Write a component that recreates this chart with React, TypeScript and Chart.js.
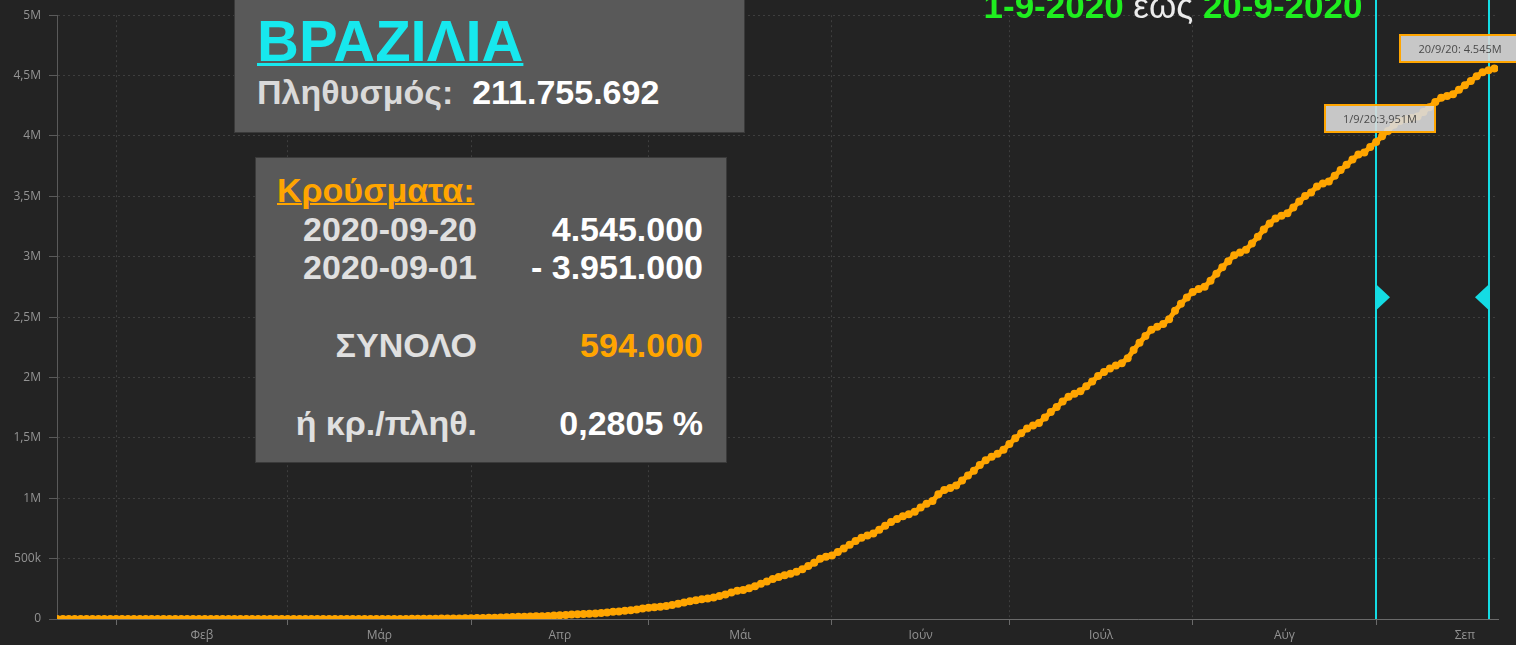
import React, { useEffect, useRef } from "react";
import { Chart, registerables } from "chart.js";

Chart.register(...registerables);

// Cumulative confirmed cases, Brazil, daily from 22 Jan 2020
const jan = [0, 0, 0, 0, 0, 0, 0, 0, 0, 0];
const feb = [0, 0, 0, 0, 0, 0, 0, 0, 0, 0, 0, 0, 0, 0, 0, 0, 0, 0, 0, 0, 0, 0, 0, 0, 0, 1, 1, 1, 2];
const mar = [2, 2, 2, 4, 4, 13, 13, 20, 25, 31, 38, 52, 151, 151, 162, 200, 321, 372, 621, 793, 1021, 1546, 1924, 2247, 2554, 2985, 3417, 3904, 4256, 4579, 5717];
const apr = [6836, 8044, 9056, 10360, 11130, 12161, 14034, 16170, 18092, 19638, 20727, 22192, 23430, 25262, 28320, 30425, 33682, 36658, 38654, 40743, 43079, 45757, 50036, 54043, 59324, 63100, 67446, 73235, 79685, 87187];
const may = [92202, 97100, 101826, 108620, 115455, 126611, 135773, 146894, 156061, 162699, 169594, 178214, 190137, 203165, 220291, 233511, 241080, 255368, 271885, 291579, 310087, 330890, 347398, 363211, 374898, 391222, 411821, 438238, 465166, 498440, 514849];
const jun = [526447, 555383, 584016, 614941, 645771, 672846, 691758, 707412, 739503, 772416, 802828, 828810, 850514, 867624, 888271, 923189, 955377, 978142, 1032913, 1067579, 1085038, 1106470, 1145906, 1188631, 1228114, 1274974, 1313667, 1344143, 1368195, 1402041];
const jul = [1448753, 1496858, 1539081, 1577004, 1603055, 1623284, 1668589, 1713160, 1755779, 1800827, 1839850, 1864681, 1884967, 1926824, 1966748, 2012151, 2046328, 2074860, 2098389, 2118646, 2159654, 2227514, 2287475, 2343366, 2394513, 2419091, 2442375, 2483191, 2552265, 2610102, 2662485];
const aug = [2707877, 2733677, 2750318, 2801921, 2859073, 2912212, 2962442, 3012412, 3035422, 3057470, 3109630, 3164785, 3224876, 3275520, 3317096, 3340197, 3359570, 3407354, 3456652, 3501975, 3532330, 3582362, 3605783, 3622861, 3669995, 3717156, 3761391, 3804803, 3846153, 3862311, 3908272];
const sep = [3950931, 3997865, 4041638, 4091801, 4123000, 4137521, 4147794, 4162073, 4197889, 4238446, 4282164, 4315687, 4330455, 4345610, 4382263, 4419083, 4455386, 4495183, 4528240, 4544629, 4558040];

// Month axis (day index counted from 22 Jan)
const monthLabels = ["Φεβ", "Μάρ", "Απρ", "Μάι", "Ιούν", "Ιούλ", "Αύγ", "Σεπ"];
const monthStartDay = [10, 39, 70, 100, 131, 161, 192, 223];
const monthLength = [29, 31, 30, 31, 30, 31, 31, 30];

// Highlighted period
const periodStartDay = 223; // 1/9/20
const periodEndDay = 242; // 20/9/20
const periodLabels = ["1/9/20:3,951M", "20/9/20: 4.545M"];

const cases = [...jan, ...feb, ...mar, ...apr, ...may, ...jun, ...jul, ...aug, ...sep];

const ORANGE = "#FFA500";
const CYAN = "#14dce4";
const GREEN = "#1fee1f";
const FONT = "'Liberation Sans', Arial, sans-serif";
const TICK_COLOR = "#939393";

function fmtY(v: number): string {
  if (v === 0) return "0";
  if (v < 1e6) return v / 1000 + "k";
  return String(v / 1e6).replace(".", ",") + "M";
}

const overlayPlugin = {
  id: "overlay",
  beforeDatasetsDraw(chart: any) {
    const { ctx, chartArea, scales } = chart;
    const x = scales.x;
    ctx.save();
    ctx.strokeStyle = CYAN;
    ctx.lineWidth = 2;
    [periodStartDay, periodEndDay].forEach((d) => {
      const px = Math.round(x.getPixelForValue(d));
      ctx.beginPath();
      ctx.moveTo(px, 0);
      ctx.lineTo(px, chartArea.bottom);
      ctx.stroke();
    });
    // handles
    const ty = chartArea.top + (chartArea.bottom - chartArea.top) * 0.467;
    const p1 = Math.round(x.getPixelForValue(periodStartDay));
    const p2 = Math.round(x.getPixelForValue(periodEndDay));
    ctx.fillStyle = CYAN;
    ctx.beginPath();
    ctx.moveTo(p1 - 1, ty - 14);
    ctx.lineTo(p1 + 14, ty);
    ctx.lineTo(p1 - 1, ty + 14);
    ctx.closePath();
    ctx.fill();
    ctx.beginPath();
    ctx.moveTo(p2 + 1, ty - 14);
    ctx.lineTo(p2 - 14, ty);
    ctx.lineTo(p2 + 1, ty + 14);
    ctx.closePath();
    ctx.fill();
    ctx.restore();
  },
  afterDatasetsDraw(chart: any) {
    const { ctx, scales } = chart;
    const x = scales.x;
    const y = scales.y;
    const specs = [
      { day: periodStartDay, text: periodLabels[0], dx: -52, w: 112, dy: 9 },
      { day: periodEndDay, text: periodLabels[1], dx: -90, w: 122, dy: 7 },
    ];
    ctx.save();
    specs.forEach((s) => {
      const px = x.getPixelForValue(s.day);
      const py = y.getPixelForValue(cases[s.day]);
      const h = 29;
      const left = Math.round(px + s.dx);
      const top = Math.round(py - s.dy - h);
      ctx.globalAlpha = 0.9;
      ctx.fillStyle = "#d9d9d9";
      ctx.fillRect(left, top, s.w, h);
      ctx.globalAlpha = 1;
      ctx.strokeStyle = ORANGE;
      ctx.lineWidth = 2;
      ctx.strokeRect(left + 1, top + 1, s.w - 2, h - 2);
      ctx.fillStyle = "#4a4a4a";
      ctx.font = "11px 'Open Sans', sans-serif";
      ctx.textAlign = "center";
      ctx.textBaseline = "middle";
      ctx.fillText(s.text, left + s.w / 2, top + h / 2 + 1);
    });
    ctx.restore();
  },
};

const isStart = (v: number) => monthStartDay.includes(v);

export default function App() {
  const ref = useRef<HTMLCanvasElement | null>(null);

  useEffect(() => {
    if (!ref.current) return;
    const labelValues = monthStartDay.map((s, i) => s + monthLength[i] / 2);
    const tickValues = [...monthStartDay, ...labelValues].sort((a, b) => a - b);
    const chart = new Chart(ref.current, {
      type: "line",
      data: {
        datasets: [
          {
            data: cases.map((v, i) => ({ x: i, y: v })),
            borderColor: ORANGE,
            backgroundColor: ORANGE,
            borderWidth: 5,
            pointRadius: 4,
            pointBorderWidth: 0,
            pointBackgroundColor: ORANGE,
            tension: 0,
          },
        ],
      },
      options: {
        responsive: false,
        animation: false,
        layout: { padding: { top: 15, right: 18, left: 0, bottom: 0 } },
        plugins: { legend: { display: false }, tooltip: { enabled: false } },
        scales: {
          x: {
            type: "linear",
            min: 0,
            max: 243.6,
            afterBuildTicks: (s: any) => {
              s.ticks = tickValues.map((v) => ({ value: v }));
            },
            afterFit: (s: any) => {
              s.height = 26;
            },
            ticks: {
              autoSkip: false,
              maxRotation: 0,
              padding: 3,
              color: TICK_COLOR,
              font: { family: "'Open Sans', sans-serif", size: 12 },
              callback: (v: any) => {
                const i = labelValues.indexOf(Number(v));
                return i >= 0 ? monthLabels[i] : "";
              },
            },
            grid: {
              color: (c: any) => (c.tick && isStart(c.tick.value) ? "#3e3e3e" : "rgba(0,0,0,0)"),
              tickColor: (c: any) => (c.tick && isStart(c.tick.value) ? "#6a6a6a" : "rgba(0,0,0,0)"),
              tickLength: 6,
              tickBorderDash: [],
            },
            border: { color: "#6a6a6a", width: 1, dash: [2, 3] },
          },
          y: {
            min: 0,
            max: 5000000,
            afterFit: (s: any) => {
              s.width = 57;
            },
            ticks: {
              stepSize: 500000,
              padding: 8,
              color: TICK_COLOR,
              font: { family: "'Open Sans', sans-serif", size: 12 },
              callback: (v: any) => fmtY(Number(v)),
            },
            grid: {
              color: "#3e3e3e",
              tickColor: "#5a5a5a",
              tickLength: 8,
              tickBorderDash: [],
            },
            border: { color: "#5a5a5a", width: 1, dash: [2, 3] },
          },
        },
      },
      plugins: [overlayPlugin],
    } as any);
    return () => chart.destroy();
  }, []);

  const abs = (o: React.CSSProperties): React.CSSProperties => ({
    position: "absolute",
    whiteSpace: "nowrap",
    fontFamily: FONT,
    fontWeight: 700,
    ...o,
  });

  return (
    <div
      style={{
        position: "fixed",
        left: 0,
        top: 0,
        width: 1516,
        height: 645,
        overflow: "hidden",
        background: "#232323",
      }}
    >
      <canvas ref={ref} width={1516} height={645} style={{ position: "absolute", left: 0, top: 0 }} />

      {/* period title */}
      <div style={abs({ left: 973, width: 400, top: -12, fontSize: 35, lineHeight: "35px", textAlign: "center", color: GREEN })}>
        1-9-2020 <span style={{ color: "#ececec", fontWeight: 400 }}>έως</span> 20-9-2020
      </div>

      {/* country box */}
      <div style={{ position: "absolute", left: 234, top: -2, width: 511, height: 135, background: "#595959", border: "1px solid #3a3a3a", boxSizing: "border-box" }} />
      <div style={abs({ left: 257, top: 12, fontSize: 58, lineHeight: "58px", color: "#17e8ee", textDecoration: "underline", textDecorationThickness: "3px" })}>
        ΒΡΑΖΙΛΙΑ
      </div>
      <div style={abs({ left: 257, top: 75, fontSize: 34, lineHeight: "34px", color: "#dadada" })}>
        Πληθυσμός:&nbsp; <span style={{ color: "#ffffff" }}>211.755.692</span>
      </div>

      {/* cases box */}
      <div style={{ position: "absolute", left: 255, top: 157, width: 472, height: 306, background: "#595959", border: "1px solid #3a3a3a", boxSizing: "border-box" }} />
      <div style={abs({ left: 277, top: 173, fontSize: 34, lineHeight: "34px", color: ORANGE, textDecoration: "underline", textDecorationThickness: "2px" })}>
        Κρούσματα:
      </div>
      <div style={abs({ right: 1039, top: 212, fontSize: 34, lineHeight: "34px", color: "#e0e0e0", textAlign: "right" })}>2020-09-20</div>
      <div style={abs({ right: 813, top: 212, fontSize: 34, lineHeight: "34px", color: "#ffffff", textAlign: "right" })}>4.545.000</div>
      <div style={abs({ right: 1039, top: 250, fontSize: 34, lineHeight: "34px", color: "#e0e0e0", textAlign: "right" })}>2020-09-01</div>
      <div style={abs({ right: 813, top: 250, fontSize: 34, lineHeight: "34px", color: "#ffffff", textAlign: "right" })}>- 3.951.000</div>
      <div style={abs({ right: 1039, top: 328, fontSize: 34, lineHeight: "34px", color: "#e0e0e0", textAlign: "right" })}>ΣΥΝΟΛΟ</div>
      <div style={abs({ right: 813, top: 328, fontSize: 34, lineHeight: "34px", color: ORANGE, textAlign: "right" })}>594.000</div>
      <div style={abs({ right: 1039, top: 406, fontSize: 34, lineHeight: "34px", color: "#e0e0e0", textAlign: "right" })}>ή κρ./πληθ.</div>
      <div style={abs({ right: 813, top: 406, fontSize: 34, lineHeight: "34px", color: "#ffffff", textAlign: "right" })}>0,2805 %</div>
    </div>
  );
}
